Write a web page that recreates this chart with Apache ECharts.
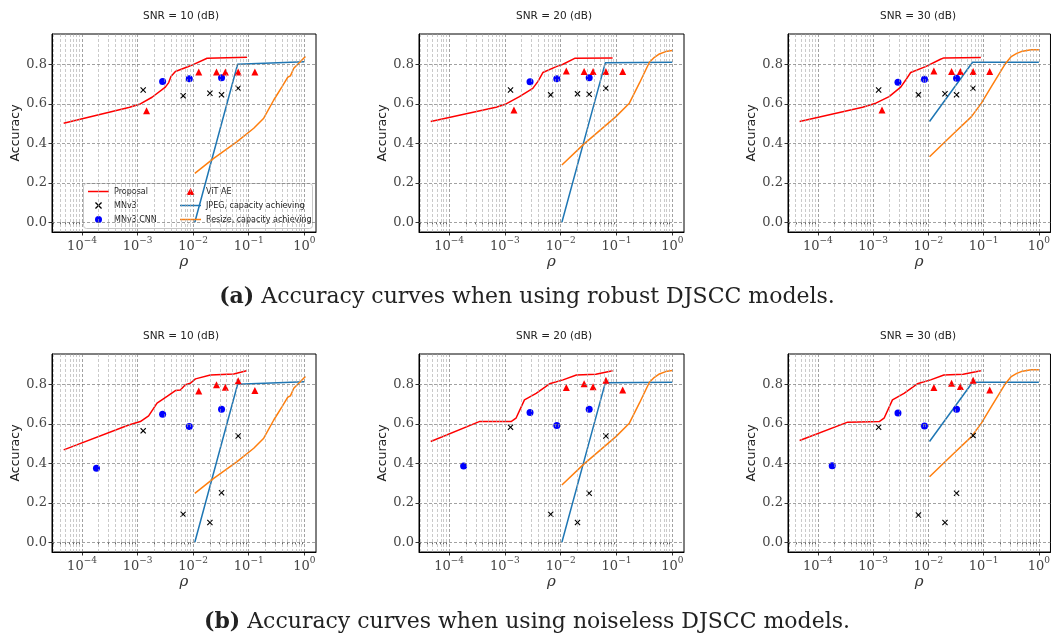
<!DOCTYPE html>
<html>
<head>
<meta charset="utf-8">
<script src="https://cdn.jsdelivr.net/npm/echarts@6/dist/echarts.min.js"></script>
<style>
  html, body { margin: 0; padding: 0; background: #fff; }
  #chart { width: 1053px; height: 637px; }
</style>
</head>
<body>
<div id="chart"></div>
<script>
// ---------------- labels ----------------
const snrLabels = ['SNR = 10 (dB)', 'SNR = 20 (dB)', 'SNR = 30 (dB)'];
const captionTags = ['(a)', '(b)'];
const captionTexts = [
  'Accuracy curves when using robust DJSCC models.',
  'Accuracy curves when using noiseless DJSCC models.'
];
const seriesNames = ['Proposal', 'MNv3', 'MNv3 CNN', 'ViT AE',
  'JPEG, capacity achieving', 'Resize, capacity achieving'];
const xTickExponents = [-4, -3, -2, -1, 0];
const yTickValues = [0, 0.2, 0.4, 0.6, 0.8];

// ---------------- baseline operating points (rho) ----------------
const mnv3Rho = [0.00126, 0.00661, 0.0200, 0.0324, 0.0646];
const mnv3CnnRhoRobust = [0.00282, 0.00851, 0.0324];
const mnv3CnnRhoNoiseless = [0.000182, 0.00282, 0.00851, 0.0324];
const vitRhoRobust = [0.00145, 0.0126, 0.0263, 0.0380, 0.0646, 0.129];
const vitRhoNoiseless = [0.0126, 0.0263, 0.0380, 0.0646, 0.129];

// ---------------- robust DJSCC models ----------------
const propRhoRobust10 = [0.0000468, 0.000692, 0.00112, 0.00182, 0.00316, 0.00363, 0.00398, 0.00479, 0.00891, 0.0178, 0.0933];
const propAccRobust10 = [0.501, 0.581, 0.599, 0.633, 0.684, 0.707, 0.738, 0.763, 0.792, 0.830, 0.835];
const propRhoRobust20 = [0.0000468, 0.000692, 0.00105, 0.00182, 0.00316, 0.00389, 0.00479, 0.00832, 0.0110, 0.0178, 0.0851];
const propAccRobust20 = [0.510, 0.582, 0.599, 0.636, 0.678, 0.712, 0.758, 0.788, 0.800, 0.830, 0.832];
const propRhoRobust30 = [0.0000468, 0.000646, 0.00112, 0.00195, 0.00316, 0.00389, 0.00479, 0.00891, 0.0166, 0.0191, 0.0891];
const propAccRobust30 = [0.510, 0.582, 0.603, 0.636, 0.684, 0.720, 0.758, 0.788, 0.825, 0.832, 0.834];

const mnv3AccRobust10 = [0.670, 0.640, 0.653, 0.645, 0.678];
const mnv3AccRobust20 = [0.670, 0.645, 0.650, 0.648, 0.678];
const mnv3AccRobust30 = [0.670, 0.645, 0.651, 0.645, 0.678];
const cnnAccRobust10 = [0.712, 0.726, 0.731];
const cnnAccRobust20 = [0.711, 0.726, 0.731];
const cnnAccRobust30 = [0.709, 0.724, 0.729];
const vitAccRobust10 = [0.565, 0.761, 0.761, 0.761, 0.761, 0.761];
const vitAccRobust20 = [0.569, 0.766, 0.763, 0.763, 0.763, 0.763];
const vitAccRobust30 = [0.569, 0.766, 0.763, 0.763, 0.763, 0.763];

// ---------------- noiseless DJSCC models ----------------
const propRhoNoiseless10 = [0.0000468, 0.000692, 0.00112, 0.00158, 0.00224, 0.00339, 0.00479, 0.00589, 0.00724, 0.00891, 0.0110, 0.0204, 0.0537, 0.0912];
const propAccNoiseless10 = [0.468, 0.594, 0.611, 0.640, 0.704, 0.738, 0.768, 0.771, 0.797, 0.805, 0.827, 0.847, 0.852, 0.868];
const propRhoNoiseless20 = [0.0000468, 0.000347, 0.00129, 0.00158, 0.00224, 0.00363, 0.00631, 0.0110, 0.0191, 0.0427, 0.0851];
const propAccNoiseless20 = [0.510, 0.611, 0.611, 0.628, 0.721, 0.754, 0.802, 0.822, 0.847, 0.851, 0.868];
const propRhoNoiseless30 = [0.0000468, 0.000347, 0.00129, 0.00158, 0.00224, 0.00363, 0.00631, 0.0110, 0.0191, 0.0427, 0.0891];
const propAccNoiseless30 = [0.515, 0.608, 0.611, 0.628, 0.721, 0.754, 0.802, 0.822, 0.847, 0.851, 0.868];

const mnv3AccNoiseless10 = [0.564, 0.142, 0.100, 0.251, 0.538];
const mnv3AccNoiseless20 = [0.582, 0.142, 0.100, 0.248, 0.538];
const mnv3AccNoiseless30 = [0.582, 0.138, 0.100, 0.248, 0.540];
const cnnAccNoiseless10 = [0.375, 0.648, 0.586, 0.673];
const cnnAccNoiseless20 = [0.386, 0.657, 0.591, 0.673];
const cnnAccNoiseless30 = [0.388, 0.655, 0.589, 0.673];
const vitAccNoiseless10 = [0.766, 0.797, 0.785, 0.817, 0.768];
const vitAccNoiseless20 = [0.783, 0.803, 0.787, 0.820, 0.771];
const vitAccNoiseless30 = [0.783, 0.805, 0.788, 0.820, 0.771];

// ---------------- separate source/channel coding references ----------------
const jpegRho10 = [0.0107, 0.0631, 0.0676, 1.0];
const jpegAcc10 = [0.000, 0.800, 0.810, 0.812];
const jpegRho20 = [0.0105, 0.0631, 1.0];
const jpegAcc20 = [0.000, 0.808, 0.810];
const jpegRho30 = [0.0105, 0.0631, 1.0];
const jpegAcc30 = [0.510, 0.810, 0.810];

const resizeRho10 = [0.0107, 0.0234, 0.0617, 0.123, 0.186, 0.282, 0.398, 0.501, 0.562, 0.603, 0.646, 0.794, 1.047];
const resizeAcc10 = [0.248, 0.324, 0.408, 0.476, 0.527, 0.619, 0.687, 0.734, 0.741, 0.741, 0.780, 0.805, 0.839];
const resizeRho20 = [0.0105, 0.0251, 0.0603, 0.0977, 0.170, 0.257, 0.389, 0.479, 0.589, 0.759, 1.0];
const resizeAcc20 = [0.290, 0.392, 0.484, 0.535, 0.603, 0.704, 0.810, 0.835, 0.852, 0.864, 0.869];
const resizeRho30 = [0.0105, 0.0269, 0.0603, 0.0912, 0.138, 0.240, 0.316, 0.398, 0.479, 0.724, 1.0];
const resizeAcc30 = [0.332, 0.442, 0.535, 0.603, 0.687, 0.797, 0.839, 0.855, 0.864, 0.873, 0.873];

// ---------------- panel assembly ----------------
const panels = [
  { prop: [propRhoRobust10, propAccRobust10], mnv3: mnv3AccRobust10, cnnRho: mnv3CnnRhoRobust, cnn: cnnAccRobust10, vitRho: vitRhoRobust, vit: vitAccRobust10, jpeg: [jpegRho10, jpegAcc10], resize: [resizeRho10, resizeAcc10] },
  { prop: [propRhoRobust20, propAccRobust20], mnv3: mnv3AccRobust20, cnnRho: mnv3CnnRhoRobust, cnn: cnnAccRobust20, vitRho: vitRhoRobust, vit: vitAccRobust20, jpeg: [jpegRho20, jpegAcc20], resize: [resizeRho20, resizeAcc20] },
  { prop: [propRhoRobust30, propAccRobust30], mnv3: mnv3AccRobust30, cnnRho: mnv3CnnRhoRobust, cnn: cnnAccRobust30, vitRho: vitRhoRobust, vit: vitAccRobust30, jpeg: [jpegRho30, jpegAcc30], resize: [resizeRho30, resizeAcc30] },
  { prop: [propRhoNoiseless10, propAccNoiseless10], mnv3: mnv3AccNoiseless10, cnnRho: mnv3CnnRhoNoiseless, cnn: cnnAccNoiseless10, vitRho: vitRhoNoiseless, vit: vitAccNoiseless10, jpeg: [jpegRho10, jpegAcc10], resize: [resizeRho10, resizeAcc10] },
  { prop: [propRhoNoiseless20, propAccNoiseless20], mnv3: mnv3AccNoiseless20, cnnRho: mnv3CnnRhoNoiseless, cnn: cnnAccNoiseless20, vitRho: vitRhoNoiseless, vit: vitAccNoiseless20, jpeg: [jpegRho20, jpegAcc20], resize: [resizeRho20, resizeAcc20] },
  { prop: [propRhoNoiseless30, propAccNoiseless30], mnv3: mnv3AccNoiseless30, cnnRho: mnv3CnnRhoNoiseless, cnn: cnnAccNoiseless30, vitRho: vitRhoNoiseless, vit: vitAccNoiseless30, jpeg: [jpegRho30, jpegAcc30], resize: [resizeRho30, resizeAcc30] }
];

// ---------------- layout & style ----------------
const X_MIN = -4.54, X_MAX = 0.21;     // log10(rho) extent
const Y_MIN = -0.049, Y_MAX = 0.953;
const gridLefts = [52, 419, 788];
const gridWidths = [264, 265, 264];
const rowTops = [34, 354];
const GRID_H = 198;
const titleCenters = [181, 554, 918];
const captionCenterX = 527;
const captionTops = [297, 622];

const SERIF = '"DejaVu Serif", "Liberation Serif", serif';
const SANS = '"DejaVu Sans", "Noto Sans", sans-serif';
const C_RED = '#ff0000', C_BLUE = '#0000ff', C_JPEG = '#1f77b4', C_RESIZE = '#ff7f0e';
const crossPath = 'path://M0,1.3L1.3,0L5,3.7L8.7,0L10,1.3L6.3,5L10,8.7L8.7,10L5,6.3L1.3,10L0,8.7L3.7,5Z';
const lineIcon = 'path://M0,0H21V1.5H0Z';
const triangleIcon = 'path://M5,0L10,8.66L0,8.66Z';

const majorGrid = { color: '#7a7a7a', width: 0.7, type: [3, 2] };
const minorGrid = { color: '#a6a6a6', width: 0.6, type: [3, 2] };

const lg = Math.log10;
const pairs = (xs, ys) => xs.map((x, i) => [lg(x), ys[i]]);

const supMinus = (e) => (e < 0 ? '\u2212' + (-e) : String(e));

const minorXValues = [];
const gridLineData = [];
for (let e = -5; e <= 0; e++) {
  for (let k = 1; k <= 9; k++) {
    const v = e + lg(k);
    if (v <= X_MIN || v >= X_MAX) continue;
    gridLineData.push({ xAxis: v, lineStyle: k === 1 ? majorGrid : minorGrid });
    if (k !== 1) minorXValues.push(v);
  }
}
yTickValues.forEach(v => gridLineData.push({ yAxis: v, lineStyle: majorGrid }));

const grids = [], xAxes = [], yAxes = [], series = [], graphics = [];

panels.forEach((p, i) => {
  const row = Math.floor(i / 3), col = i % 3;
  grids.push({
    left: gridLefts[col], top: rowTops[row], width: gridWidths[col], height: GRID_H,
    show: true, borderColor: '#000', borderWidth: 1, backgroundColor: '#fff'
  });
  // main rho axis
  xAxes.push({
    type: 'value', gridIndex: i, min: X_MIN, max: X_MAX,
    name: 'ρ', nameLocation: 'middle', nameGap: 23,
    nameTextStyle: { fontFamily: SERIF, fontStyle: 'italic', fontSize: 15, color: '#333' },
    axisLine: { show: true, onZero: false, lineStyle: { color: '#000', width: 1 } },
    axisTick: { show: true, length: 3.5, customValues: xTickExponents, lineStyle: { color: '#000', width: 0.8 } },
    axisLabel: {
      show: true, margin: 4, customValues: xTickExponents,
      formatter: v => '{b|10}{s|' + supMinus(Math.round(v)) + '}',
      rich: {
        b: { fontFamily: SERIF, fontSize: 13, color: '#444', lineHeight: 17, verticalAlign: 'bottom' },
        s: { fontFamily: SERIF, fontSize: 9, color: '#444', verticalAlign: 'top' }
      }
    },
    splitLine: { show: false }
  });
  // minor ticks between decades
  xAxes.push({
    type: 'value', gridIndex: i, min: X_MIN, max: X_MAX, position: 'bottom',
    axisLine: { show: false },
    axisTick: { show: true, length: 2, customValues: minorXValues, lineStyle: { color: '#000', width: 0.6 } },
    axisLabel: { show: false },
    splitLine: { show: false }
  });
  yAxes.push({
    type: 'value', gridIndex: i, min: Y_MIN, max: Y_MAX,
    name: 'Accuracy', nameLocation: 'middle', nameGap: 23,
    nameTextStyle: { fontFamily: SANS, fontSize: 12.5, color: '#222' },
    axisLine: { show: true, onZero: false, lineStyle: { color: '#000', width: 1 } },
    axisTick: { show: true, length: 3.5, customValues: yTickValues, lineStyle: { color: '#000', width: 0.8 } },
    axisLabel: {
      show: true, margin: 5, customValues: yTickValues,
      formatter: v => v.toFixed(1),
      fontFamily: SERIF, fontSize: 13, color: '#444'
    },
    splitLine: { show: false }
  });

  const xi = 2 * i, yi = i;
  // dashed major/minor grid
  series.push({
    type: 'line', xAxisIndex: xi, yAxisIndex: yi, data: [], silent: true, z: 1,
    markLine: { silent: true, symbol: ['none', 'none'], label: { show: false }, animation: false, data: gridLineData }
  });
  series.push({
    name: seriesNames[0], type: 'line', xAxisIndex: xi, yAxisIndex: yi,
    data: pairs(p.prop[0], p.prop[1]), symbol: 'none', z: 3,
    lineStyle: { color: C_RED, width: 1.5 }, itemStyle: { color: C_RED }
  });
  series.push({
    name: seriesNames[1], type: 'scatter', xAxisIndex: xi, yAxisIndex: yi,
    data: pairs(mnv3Rho, p.mnv3), symbol: crossPath, symbolSize: 6, z: 4,
    itemStyle: { color: '#000', opacity: 1 }
  });
  series.push({
    name: seriesNames[2], type: 'scatter', xAxisIndex: xi, yAxisIndex: yi,
    data: pairs(p.cnnRho, p.cnn), symbol: 'circle', symbolSize: 7, z: 4,
    itemStyle: { color: C_BLUE, opacity: 1 }
  });
  series.push({
    name: seriesNames[3], type: 'scatter', xAxisIndex: xi, yAxisIndex: yi,
    data: pairs(p.vitRho, p.vit), symbol: 'triangle', symbolSize: 7, z: 4,
    itemStyle: { color: C_RED, opacity: 1 }
  });
  series.push({
    name: seriesNames[4], type: 'line', xAxisIndex: xi, yAxisIndex: yi,
    data: pairs(p.jpeg[0], p.jpeg[1]), symbol: 'none', z: 3,
    lineStyle: { color: C_JPEG, width: 1.5 }, itemStyle: { color: C_JPEG }
  });
  series.push({
    name: seriesNames[5], type: 'line', xAxisIndex: xi, yAxisIndex: yi,
    data: pairs(p.resize[0], p.resize[1]), symbol: 'none', z: 3,
    lineStyle: { color: C_RESIZE, width: 1.5 }, itemStyle: { color: C_RESIZE }
  });

  // panel title
  graphics.push({
    type: 'text', x: titleCenters[col], y: rowTops[row] - 18, z: 10,
    style: {
      text: snrLabels[col], font: '10.5px ' + SANS, fill: '#222',
      align: 'center', verticalAlign: 'middle', textAlign: 'center', textVerticalAlign: 'middle'
    }
  });
});

// legend frame
graphics.push({
  type: 'rect', z: 3,
  shape: { x: 83.5, y: 183.5, width: 229, height: 45, r: 3 },
  style: { fill: 'rgba(255,255,255,0.8)', stroke: '#c8c8c8', lineWidth: 1 }
});

// sub-figure captions
captionTexts.forEach((t, r) => {
  graphics.push({
    type: 'text', x: captionCenterX, y: captionTops[r], z: 10,
    style: {
      text: '{b|' + captionTags[r] + '} ' + t,
      rich: { b: { fontWeight: 'bold', fontFamily: SERIF, fontSize: 22, fill: '#222', color: '#222' } },
      font: '22px ' + SERIF, fill: '#222',
      align: 'center', verticalAlign: 'middle', textAlign: 'center', textVerticalAlign: 'middle'
    }
  });
});

const legendCommon = {
  orient: 'vertical', top: 187.5, itemGap: 6, itemWidth: 21, itemHeight: 7,
  padding: 0, z: 5, selectedMode: false, symbolKeepAspect: true,
  textStyle: { fontFamily: SANS, fontSize: 8, color: '#222' }
};

const option = {
  animation: false,
  backgroundColor: '#fff',
  grid: grids,
  xAxis: xAxes,
  yAxis: yAxes,
  legend: [
    Object.assign({ left: 88, data: [
      { name: seriesNames[0], icon: lineIcon },
      { name: seriesNames[1], icon: crossPath },
      { name: seriesNames[2], icon: 'circle' }
    ] }, legendCommon),
    Object.assign({ left: 180, data: [
      { name: seriesNames[3], icon: triangleIcon },
      { name: seriesNames[4], icon: lineIcon },
      { name: seriesNames[5], icon: lineIcon }
    ] }, legendCommon)
  ],
  graphic: graphics,
  series: series
};

const chart = echarts.init(document.getElementById('chart'), null, { renderer: 'canvas' });
chart.setOption(option);
</script>
</body>
</html>
